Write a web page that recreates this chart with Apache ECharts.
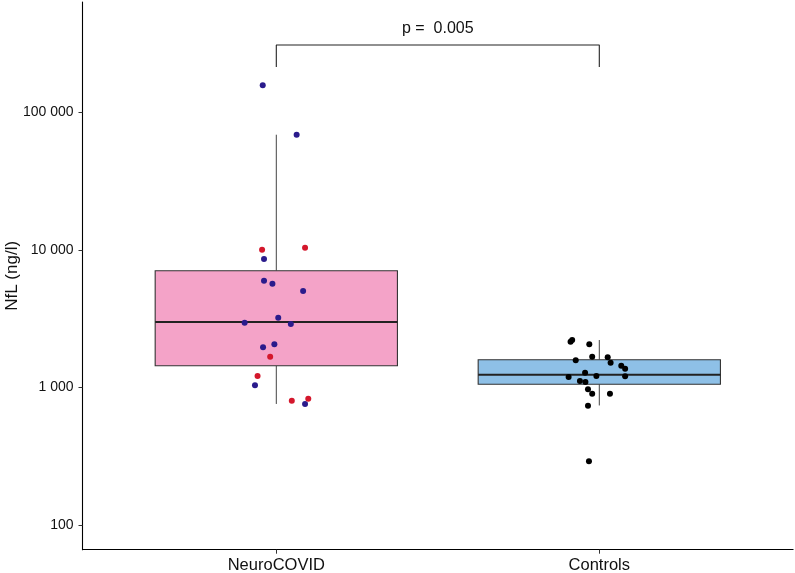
<!DOCTYPE html>
<html>
<head>
<meta charset="utf-8">
<script src="https://cdn.jsdelivr.net/npm/echarts@6/dist/echarts.min.js"></script>
<style>
  html, body { margin: 0; padding: 0; background: #ffffff; }
  #chart { width: 795px; height: 573px; }
</style>
</head>
<body>
<div id="chart"></div>
<script>
// ---- data ----
const categories = ['NeuroCOVID', 'Controls'];
const categoryPos = [1, 2];
const yTicks = [100, 1000, 10000, 100000];

// box statistics (per category)
const boxMin    = [759, 740];
const boxQ1     = [1440, 1055];
const boxMedian = [2995, 1239];
const boxQ3     = [7070, 1593];
const boxMax    = [68940, 2215];

// jittered points, NeuroCOVID (blue)
const neuroBlueX = [0.958, 1.063, 0.962, 0.962, 0.988, 1.083, 1.006, 0.902, 1.045, 0.994, 0.959, 0.934, 1.089];
const neuroBlueY = [157700, 68940, 8600, 5980, 5690, 5030, 3218, 2960, 2895, 2062, 1961, 1037, 759];
// jittered points, NeuroCOVID (red)
const neuroRedX = [0.956, 1.089, 0.981, 0.942, 1.048, 1.099];
const neuroRedY = [10050, 10390, 1675, 1212, 802, 829];
// jittered points, Controls
const controlX = [1.911, 1.916, 1.969, 1.978, 1.927, 2.026, 2.035, 2.068, 2.080, 1.956, 1.905, 1.991, 2.080, 1.940, 1.957, 1.965, 1.978, 2.033, 1.965, 1.968];
const controlY = [2153, 2215, 2062, 1675, 1577, 1658, 1515, 1440, 1370, 1281, 1192, 1212, 1206, 1115, 1096, 970, 901, 901, 737, 291];

// significance bracket
const bracketFrom = 1, bracketTo = 2;
const bracketTop = 309700;
const bracketTip = 214200;
const pLabel = 'p =  0.005';

// ---- styles ----
const boxFill = ['#F4A3C8', '#8EC0E7'];
const FONT = '"Liberation Sans", Arial, sans-serif';
const BOX_HALF = 0.375;

const zip = (xs, ys) => xs.map((x, i) => [x, ys[i]]);
const boxData = categoryPos.map((p, i) => [p, boxMin[i], boxQ1[i], boxMedian[i], boxQ3[i], boxMax[i]]);
const fmtThousands = v => String(Math.round(v)).replace(/\B(?=(\d{3})+(?!\d))/g, ' ');

const chart = echarts.init(document.getElementById('chart'), null, { renderer: 'canvas' });
chart.setOption({
  animation: false,
  backgroundColor: '#ffffff',
  grid: { left: 82.5, right: 1.9, top: 2, bottom: 23.3, containLabel: false, outerBoundsMode: 'none' },
  xAxis: {
    type: 'value',
    min: 0.4, max: 2.6,
    splitLine: { show: false },
    axisLine: { lineStyle: { color: '#000', width: 1.1 } },
    axisTick: { show: true, length: 4, customValues: categoryPos, lineStyle: { color: '#333' } },
    axisLabel: {
      customValues: categoryPos,
      formatter: v => categories[Math.round(v) - 1],
      fontFamily: FONT, fontSize: 16.5, color: '#111', margin: 7
    }
  },
  yAxis: {
    type: 'log',
    logBase: 10,
    min: 66.1, max: 636400,
    name: 'NfL (ng/l)',
    nameLocation: 'middle',
    nameGap: 62,
    nameMoveOverlap: false,
    nameTextStyle: { fontFamily: FONT, fontSize: 17, color: '#111' },
    splitLine: { show: false },
    axisLine: { show: true, lineStyle: { color: '#000', width: 1.1 } },
    axisTick: { show: true, length: 4, customValues: yTicks, lineStyle: { color: '#333' } },
    axisLabel: {
      customValues: yTicks,
      formatter: v => fmtThousands(v),
      fontFamily: FONT, fontSize: 14, color: '#111', margin: 9
    }
  },
  series: [
    {
      type: 'custom',
      data: boxData,
      encode: { x: 0, y: [1, 2, 3, 4, 5] },
      z: 1,
      renderItem: (params, api) => {
        const x = api.value(0);
        const lo = api.coord([x, api.value(1)]);
        const q1 = api.coord([x, api.value(2)]);
        const md = api.coord([x, api.value(3)]);
        const q3 = api.coord([x, api.value(4)]);
        const hi = api.coord([x, api.value(5)]);
        const left = api.coord([x - BOX_HALF, api.value(3)])[0];
        const right = api.coord([x + BOX_HALF, api.value(3)])[0];
        return {
          type: 'group',
          children: [
            { type: 'line', shape: { x1: lo[0], y1: lo[1], x2: q1[0], y2: q1[1] }, style: { stroke: '#444', lineWidth: 1 } },
            { type: 'line', shape: { x1: q3[0], y1: q3[1], x2: hi[0], y2: hi[1] }, style: { stroke: '#444', lineWidth: 1 } },
            { type: 'rect', shape: { x: left, y: q3[1], width: right - left, height: q1[1] - q3[1] },
              style: { fill: boxFill[params.dataIndex], stroke: '#333', lineWidth: 1.1 } },
            { type: 'line', shape: { x1: left, y1: md[1], x2: right, y2: md[1] }, style: { stroke: '#222', lineWidth: 2 } }
          ]
        };
      }
    },
    {
      type: 'line',
      data: [[bracketFrom, bracketTip], [bracketFrom, bracketTop], [bracketTo, bracketTop], [bracketTo, bracketTip]],
      symbol: 'none',
      lineStyle: { color: '#222', width: 1.1 },
      z: 2
    },
    {
      type: 'scatter',
      data: [[(bracketFrom + bracketTo) / 2, bracketTop]],
      symbolSize: 0,
      itemStyle: { opacity: 1 },
      label: {
        show: true, position: 'top', distance: 8,
        formatter: pLabel,
        fontFamily: FONT, fontSize: 16, color: '#111', opacity: 1
      },
      z: 2
    },
    {
      type: 'scatter',
      data: zip(neuroBlueX, neuroBlueY),
      symbolSize: 6,
      itemStyle: { color: '#2A1B8C', opacity: 1 },
      z: 3
    },
    {
      type: 'scatter',
      data: zip(neuroRedX, neuroRedY),
      symbolSize: 6,
      itemStyle: { color: '#D4172C', opacity: 1 },
      z: 3
    },
    {
      type: 'scatter',
      data: zip(controlX, controlY),
      symbolSize: 6,
      itemStyle: { color: '#000000', opacity: 1 },
      z: 3
    }
  ]
});
</script>
</body>
</html>
